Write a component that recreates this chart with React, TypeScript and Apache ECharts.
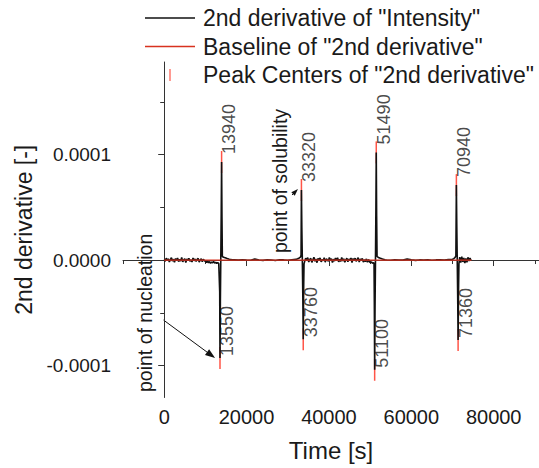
import React, { useEffect, useRef } from "react";
import * as echarts from "echarts";

// values of the 2nd derivative are written in micro-units (x 1e-6)
const MICRO = 1e-6;

// peak centers (time [s], value [micro])
const peakTimes = [13550, 13940, 33320, 33760, 51100, 51490, 70940, 71360];
const peakValues = [-92.9, 92.9, 66.4, -75.0, -104.0, 102.0, 71.0, -75.8];

// noisy stretches, sampled every 250 s
const noiseStep = 250;
const noiseAStart = 0;
const noiseA = [
  0.5, -1.2, 1.8, -0.6, 1.1, -1.9, 0.4, 2.2, -1.0, 0.8,
  -2.1, 1.4, -0.3, 1.9, -1.5, 0.6, -0.9, 2.4, -1.7, 0.2,
  1.3, -2.3, 0.9, -0.4, 1.7, -1.1, 0.3, -1.8, 2.0, -0.7,
  1.0, -1.4, 0.6, 1.5, -2.0, 0.1, 1.2, -1.6, 0.7, -0.5,
  -1.2, -2.4, -0.8, -2.6, -1.5, -3.0, -1.9, -2.7, -1.4, -2.9,
  -2.2, -3.1, -2.5, -3.4,
];
const noiseBStart = 34100;
const noiseB = [
  -1.5, 1.8, -0.4, 2.3, -1.9, 0.7, 1.5, -2.2, 0.3, 2.6,
  -1.1, 0.9, -2.5, 1.6, -0.2, 2.0, -1.7, 0.5, -0.8, 2.2,
  -2.0, 1.1, 0.4, -1.3, 2.5, -0.6, 1.3, -2.4, 0.8, -1.0,
  1.9, -0.3, 2.1, -1.8, 0.6, -1.4, 2.4, -0.9, 1.2, -2.1,
  0.2, 1.7, -1.6, 0.9, -0.5, 2.0, -2.3, 1.4, -0.7, 1.8,
  -1.2, 0.5, 2.2, -1.9, 1.0, -0.4, 1.6, -2.0, 0.3, -1.5,
  1.1, -2.2, 0.6, -1.7, -2.5, -1.9, -3.0, -2.4,
];
const noiseCStart = 71750;
const noiseC = [2.8, -2.5, 3.3, -1.8, 2.0, -3.0, 1.5, -2.2, 2.6, -1.0, 1.8, -0.5];

// quiet stretches, sampled every 1000 s
const flatStep = 1000;
const flatAStart = 17000;
const flatA = [0.2, -0.1, 0.3, 0.0, -0.2, 1.0, 0.1, -0.3, 0.2, 0.0, -0.4, 0.3, 0.1, -0.2, 0.3, 0.6];
const flatBStart = 54000;
const flatB = [0.1, -0.2, 0.3, 0.0, -0.1, 0.9, 0.2, -0.3, 0.1, 0.0, 0.2, -0.2, 0.1, 0.3, 0.0, 0.5, 0.8];

// flanks of the spikes (time [s], value [micro])
const spikeFlanks: [number, number][] = [
  [13400, -3.5], [13480, -30], [13640, -40], [13740, 0], [13850, 45], [14030, 40],
  [14120, 3.5], [14400, 2.6], [14800, 2.1], [15300, 1.4], [15800, 0.8], [16500, 0.3],
  [32400, 1.2], [32800, 2.0], [33100, 2.8], [33230, 4.5], [33420, 30], [33540, 0],
  [33660, -35], [33850, -30], [33950, -3.5],
  [50950, -3.8], [51020, -40], [51190, -45], [51300, 0], [51400, 48], [51580, 42],
  [51680, 3.5], [52000, 2.4], [52500, 1.6], [53000, 0.9], [53600, 0.3],
  [70300, 1.3], [70600, 2.2], [70820, 4.0], [71040, 32], [71150, 0], [71260, -35],
  [71450, -32], [71560, -3.5],
];

const baselineTimes = [0, 74600];
const baselineValues = [0, 0];

const xMajorTicks = [0, 20000, 40000, 60000, 80000];
const xMinorTicks = [-10000, 10000, 30000, 50000, 70000, 90000];
const yMajorTicks = [-0.0001, 0, 0.0001];
const yMinorTicks = [-0.00005, 0.00005, 0.00015];

const seriesNames = [
  '2nd derivative of "Intensity"',
  'Baseline of "2nd derivative"',
  'Peak Centers of "2nd derivative"',
];

// annotations, in data coordinates
const annotationTexts = [
  { text: "point of nucleation", at: [-4600, -0.0001251] },
  { text: "point of solubility", at: [28100, 0.0000066] },
];
const annotationArrows = [
  { from: [-160, -0.0000569], to: [12360, -0.0000929], head: 10 },
  { from: [31030, 0.0000616], to: [32480, 0.0000673], head: 7 },
];

const FONT = "'Liberation Sans', Arial, Helvetica, sans-serif";
const TEXT = "#1a1a1a";
const AXIS = "#333333";

function buildDerivative(): [number, number][] {
  const pts: [number, number][] = [];
  noiseA.forEach((v, i) => pts.push([noiseAStart + i * noiseStep, v]));
  noiseB.forEach((v, i) => pts.push([noiseBStart + i * noiseStep, v]));
  noiseC.forEach((v, i) => pts.push([noiseCStart + i * noiseStep, v]));
  flatA.forEach((v, i) => pts.push([flatAStart + i * flatStep, v]));
  flatB.forEach((v, i) => pts.push([flatBStart + i * flatStep, v]));
  spikeFlanks.forEach((p) => pts.push([p[0], p[1]]));
  peakTimes.forEach((t, i) => pts.push([t, peakValues[i]]));
  pts.sort((a, b) => a[0] - b[0]);
  return pts.map((p) => [p[0], p[1] * MICRO]);
}

export default function App() {
  const ref = useRef<HTMLDivElement>(null);

  useEffect(() => {
    if (!ref.current) return;
    const chart = echarts.init(ref.current, null, { renderer: "svg" });

    const derivative = buildDerivative();
    const baseline = baselineTimes.map((t, i) => [t, baselineValues[i]]);
    const peaks = peakTimes.map((t, i) => {
      const v = peakValues[i] * MICRO;
      return {
        value: [t, v],
        label: { position: v > 0 ? [8.25, 3] : [8.25, 9] },
      };
    });

    const xMin = -10000;
    const xMax = 91000;
    const yMin = -0.0001303;
    const yMax = 0.0001877;

    const option: any = {
      animation: false,
      backgroundColor: "#ffffff",
      textStyle: { fontFamily: FONT },
      grid: {
        left: 123,
        right: 0,
        top: 62,
        bottom: 70.5,
        containLabel: false,
        outerBoundsMode: "none",
      },
      legend: {
        orient: "vertical",
        left: 145,
        top: 3.75,
        padding: 0,
        itemGap: 0,
        itemWidth: 50,
        itemHeight: 12,
        selectedMode: false,
        textStyle: {
          fontFamily: FONT,
          fontSize: 23,
          color: TEXT,
          lineHeight: 28.5,
          padding: [0, 0, 0, 3],
        },
        data: [
          { name: seriesNames[0], icon: "path://M0 0H50V1.4H0Z" },
          { name: seriesNames[1], icon: "path://M0 0H50V1.4H0Z" },
          { name: seriesNames[2], icon: "path://M0 0H1.2V12H0Z" },
        ],
      },
      xAxis: [
        {
          type: "value",
          min: xMin,
          max: xMax,
          position: "bottom",
          name: "Time [s]",
          nameLocation: "middle",
          nameGap: 41,
          nameTextStyle: { fontFamily: FONT, fontSize: 24, color: TEXT },
          axisLine: { show: true, lineStyle: { color: AXIS, width: 1 } },
          axisTick: {
            show: true,
            inside: false,
            length: 6,
            customValues: xMajorTicks,
            lineStyle: { color: AXIS, width: 1 },
          },
          axisLabel: {
            show: true,
            customValues: xMajorTicks,
            margin: 9,
            fontFamily: FONT,
            fontSize: 20,
            color: TEXT,
            formatter: (v: number) => String(v),
          },
          splitLine: { show: false },
        },
        {
          type: "value",
          min: xMin,
          max: xMax,
          position: "bottom",
          axisLine: { show: false },
          axisTick: {
            show: true,
            inside: false,
            length: 4,
            customValues: xMinorTicks,
            lineStyle: { color: AXIS, width: 1 },
          },
          axisLabel: { show: false },
          splitLine: { show: false },
        },
      ],
      yAxis: [
        {
          type: "value",
          min: yMin,
          max: yMax,
          position: "left",
          name: "2nd derivative [-]",
          nameLocation: "middle",
          nameGap: 86,
          nameTextStyle: { fontFamily: FONT, fontSize: 23, color: TEXT },
          axisLine: { show: true, lineStyle: { color: AXIS, width: 1 } },
          axisTick: {
            show: true,
            inside: false,
            length: 6,
            customValues: yMajorTicks,
            lineStyle: { color: AXIS, width: 1 },
          },
          axisLabel: {
            show: true,
            customValues: yMajorTicks,
            margin: 12,
            fontFamily: FONT,
            fontSize: 19,
            color: TEXT,
            formatter: (v: number) => v.toFixed(4),
          },
          splitLine: { show: false },
        },
        {
          type: "value",
          min: yMin,
          max: yMax,
          position: "left",
          axisLine: { show: false },
          axisTick: {
            show: true,
            inside: false,
            length: 4,
            customValues: yMinorTicks,
            lineStyle: { color: AXIS, width: 1 },
          },
          axisLabel: { show: false },
          splitLine: { show: false },
        },
      ],
      series: [
        {
          name: seriesNames[0],
          type: "line",
          data: derivative,
          symbol: "none",
          showSymbol: false,
          color: "#111111",
          lineStyle: { color: "#111111", width: 1.6 },
          z: 3,
          silent: true,
        },
        {
          name: seriesNames[1],
          type: "line",
          data: baseline,
          symbol: "none",
          showSymbol: false,
          color: "#d8321f",
          lineStyle: { color: "#d8321f", width: 1.3 },
          z: 4,
          silent: true,
        },
        {
          name: seriesNames[2],
          type: "scatter",
          data: peaks,
          symbol: "rect",
          symbolSize: [1.5, 22],
          itemStyle: { color: "#ff2a1a" },
          z: 2,
          silent: true,
          label: {
            show: true,
            rotate: 90,
            align: "left",
            verticalAlign: "middle",
            fontFamily: FONT,
            fontSize: 18,
            color: TEXT,
            formatter: (p: any) => String(p.value[0]),
          },
        },
      ],
    };

    chart.setOption(option);

    const graphics: any[] = [];
    annotationTexts.forEach((a) => {
      const p = chart.convertToPixel({ gridIndex: 0 }, a.at as number[]) as number[];
      graphics.push({
        type: "text",
        x: p[0],
        y: p[1],
        rotation: Math.PI / 2,
        silent: true,
        style: {
          text: a.text,
          fontFamily: FONT,
          fontSize: 19.5,
          fill: TEXT,
          textAlign: "left",
          textVerticalAlign: "middle",
        },
      });
    });
    annotationArrows.forEach((a) => {
      const p1 = chart.convertToPixel({ gridIndex: 0 }, a.from as number[]) as number[];
      const p2 = chart.convertToPixel({ gridIndex: 0 }, a.to as number[]) as number[];
      const dx = p2[0] - p1[0];
      const dy = p2[1] - p1[1];
      const len = Math.sqrt(dx * dx + dy * dy) || 1;
      const ux = dx / len;
      const uy = dy / len;
      const bx = p2[0] - ux * a.head;
      const by = p2[1] - uy * a.head;
      const w = a.head * 0.35;
      graphics.push({
        type: "line",
        silent: true,
        shape: { x1: p1[0], y1: p1[1], x2: bx + ux * 1, y2: by + uy * 1 },
        style: { stroke: "#111111", lineWidth: 1 },
      });
      graphics.push({
        type: "polygon",
        silent: true,
        shape: {
          points: [
            [p2[0], p2[1]],
            [bx - uy * w, by + ux * w],
            [bx + uy * w, by - ux * w],
          ],
        },
        style: { fill: "#111111" },
      });
    });
    chart.setOption({ graphic: graphics });

    return () => {
      chart.dispose();
    };
  }, []);

  return (
    <div
      ref={ref}
      style={{
        position: "fixed",
        left: 0,
        top: 0,
        width: 539,
        height: 468,
        background: "#ffffff",
      }}
    />
  );
}
